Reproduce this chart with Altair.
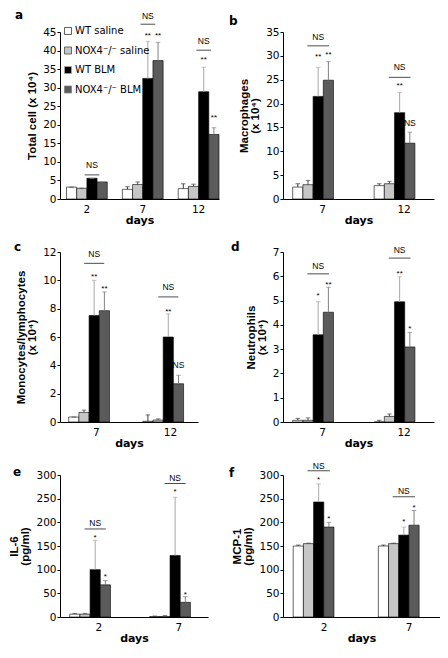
import altair as alt
import pandas as pd

WT_S, KO_S, WT_B, KO_B = "WT saline", "NOX4⁻/⁻ saline", "WT BLM", "NOX4⁻/⁻ BLM"
groups = [WT_S, KO_S, WT_B, KO_B]
fills = ["#ffffff", "#c6c6c6", "#000000", "#5b5b5b"]
err_colors = ["#3c3c3c", "#4a4a4a", "#a8a8a8", "#808080"]

# ---- a: Total cell (x 10^4)
a_days = ["2", "7", "12"]
a_mean = [[3.2, 2.6, 2.8], [2.9, 3.9, 3.4], [5.6, 32.5, 28.9], [4.6, 37.3, 17.4]]
a_top = [[3.2, 3.3, 4.1], [2.9, 4.6, 4.0], [5.6, 42.4, 35.5], [4.6, 42.2, 19.2]]
a_star_day = ["7", "7", "12", "12"]
a_star_grp = [WT_B, KO_B, WT_B, KO_B]
a_star_y = [44.5, 44.5, 38.0, 22.3]
a_star_txt = ["**", "**", "**", "**"]
a_lab_day, a_lab_grp, a_lab_y = [], [], []
a_ns_day = ["2", "7", "12"]
a_ns_line = [6.5, 47.1, 40.1]
a_ns_text = [9.1, 49.4, 42.7]

# ---- b: Macrophages (x 10^4)
b_days = ["7", "12"]
b_mean = [[2.5, 2.8], [3.0, 3.2], [21.5, 18.1], [24.9, 11.7]]
b_top = [[3.2, 3.2], [3.9, 3.7], [27.6, 22.3], [28.8, 14.0]]
b_star_day = ["7", "7", "12"]
b_star_grp = [WT_B, KO_B, WT_B]
b_star_y = [30.1, 30.7, 24.2]
b_star_txt = ["**", "**", "**"]
b_lab_day, b_lab_grp, b_lab_y = ["12"], [KO_B], [15.9]
b_ns_day = ["7", "12"]
b_ns_line = [32.1, 25.5]
b_ns_text = [34.0, 27.7]

# ---- c: Monocytes/lymphocytes (x 10^4)
c_days = ["7", "12"]
c_mean = [[0.35, 0.05], [0.68, 0.14], [7.52, 6.0], [7.86, 2.7]]
c_top = [[0.35, 0.5], [0.84, 0.22], [10.0, 7.63], [9.18, 3.3]]
c_star_day = ["7", "7", "12"]
c_star_grp = [WT_B, KO_B, WT_B]
c_star_y = [10.4, 9.5, 7.9]
c_star_txt = ["**", "**", "**"]
c_lab_day, c_lab_grp, c_lab_y = ["12"], [KO_B], [4.05]
c_ns_day = ["7", "12"]
c_ns_line = [11.2, 8.83]
c_ns_text = [11.84, 9.56]

# ---- d: Neutrophils (x 10^4)
d_days = ["7", "12"]
d_mean = [[0.07, 0.0], [0.07, 0.23], [3.59, 4.95], [4.52, 3.09]]
d_top = [[0.15, 0.07], [0.17, 0.33], [4.95, 5.98], [5.55, 3.69]]
d_star_day = ["7", "7", "12", "12"]
d_star_grp = [WT_B, KO_B, WT_B, KO_B]
d_star_y = [5.27, 5.74, 6.16, 3.92]
d_star_txt = ["*", "**", "**", "*"]
d_lab_day, d_lab_grp, d_lab_y = [], [], []
d_ns_day = ["7", "12"]
d_ns_line = [6.10, 6.75]
d_ns_text = [6.44, 7.08]

# ---- e: IL-6 (pg/ml)
e_days = ["2", "7"]
e_mean = [[6, 1], [6, 1], [100, 130], [68, 31]]
e_top = [[7.5, 2], [7.5, 3], [162, 253], [77, 43]]
e_star_day = ["2", "2", "7", "7"]
e_star_grp = [WT_B, KO_B, WT_B, KO_B]
e_star_y = [172, 88.6, 268, 50]
e_star_txt = ["*", "*", "*", "*"]
e_lab_day, e_lab_grp, e_lab_y = [], [], []
e_ns_day = ["2", "7"]
e_ns_line = [186, 282]
e_ns_text = [199, 293]

# ---- f: MCP-1 (pg/ml)
f_days = ["2", "7"]
f_mean = [[150, 150], [155, 155], [243, 173], [190, 194]]
f_top = [[152, 152], [156, 156], [281, 190], [200, 225]]
f_star_day = ["2", "2", "7", "7"]
f_star_grp = [WT_B, KO_B, WT_B, KO_B]
f_star_y = [293, 211, 204, 235]
f_star_txt = ["*", "*", "*", "*"]
f_lab_day, f_lab_grp, f_lab_y = [], [], []
f_ns_day = ["2", "7"]
f_ns_line = [309, 254]
f_ns_text = [320, 266]

AX = dict(domainColor="black", tickColor="black", labelColor="black", titleColor="black",
          grid=False, domainWidth=1)


def panel(letter, days, mean, top, star_day, star_grp, star_y, star_txt,
          lab_day, lab_grp, lab_y, ns_day, ns_line, ns_text,
          ymax, ystep, ytitle, width, height, lead, pin, lx, ly, legend=None):
    n = len(days)
    step = (width - lead) / (n - pin)
    pout = lead / (2 * step)
    barw = step * (1 - pin) / 4

    rows = []
    for gi, g in enumerate(groups):
        for di, d in enumerate(days):
            rows.append({"day": d, "group": g, "mean": mean[gi][di], "top": top[gi][di]})
    bars_df = pd.DataFrame(rows)

    xenc = alt.X("day:N", sort=days,
                 scale=alt.Scale(domain=days, paddingInner=pin, paddingOuter=pout, align=1),
                 axis=alt.Axis(title="days", ticks=False, labelAngle=0, labelPadding=5,
                               labelFont="DejaVu Sans", labelFontSize=10.5,
                               titleFont="DejaVu Sans", titleFontSize=11, titleFontWeight="bold",
                               titlePadding=0, **AX))
    xoff = alt.XOffset("group:N", sort=groups,
                       scale=alt.Scale(domain=groups, paddingInner=0, paddingOuter=0))
    yscale = alt.Scale(domain=[0, ymax], nice=False, zero=True)
    vals = []
    v = 0
    while v <= ymax + 1e-9:
        vals.append(v)
        v += ystep
    yaxis = alt.Axis(values=vals, title=ytitle, tickSize=3, labelPadding=1,
                     labelFont="DejaVu Sans", labelFontSize=10.5,
                     titleFont="Liberation Sans", titleFontSize=11.5, titleFontWeight="bold",
                     titlePadding=5, titleLineHeight=11, **AX)

    base = alt.Chart(bars_df)
    bars = base.mark_bar(stroke="black", strokeWidth=0.6).encode(
        x=xenc, xOffset=xoff,
        y=alt.Y("mean:Q", scale=yscale, axis=yaxis),
        color=alt.Color("group:N", scale=alt.Scale(domain=groups, range=fills), legend=legend),
    )
    errs = base.mark_rule(strokeWidth=1).encode(
        x=xenc, xOffset=xoff,
        y=alt.Y("mean:Q", scale=yscale, axis=yaxis), y2="top:Q",
        stroke=alt.Stroke("group:N", scale=alt.Scale(domain=groups, range=err_colors), legend=None),
    )
    caps = base.mark_tick(orient="horizontal", size=4.5, thickness=1).encode(
        x=xenc, xOffset=xoff,
        y=alt.Y("top:Q", scale=yscale, axis=yaxis),
        fill=alt.Fill("group:N", scale=alt.Scale(domain=groups, range=err_colors), legend=None),
    )
    layers = [bars, errs, caps]

    star_df = pd.DataFrame({"day": star_day, "group": star_grp, "y": star_y, "t": star_txt})
    layers.append(alt.Chart(star_df).mark_text(
        font="Liberation Sans", fontSize=8, baseline="middle", dy=2, color="black").encode(
        x=xenc, xOffset=xoff, y=alt.Y("y:Q", scale=yscale, axis=yaxis), text="t:N"))

    if lab_day:
        lab_df = pd.DataFrame({"day": lab_day, "group": lab_grp, "y": lab_y})
        layers.append(alt.Chart(lab_df).mark_text(
            font="Liberation Sans", fontSize=8.5, baseline="middle", color="black", text="NS").encode(
            x=xenc, xOffset=xoff, y=alt.Y("y:Q", scale=yscale, axis=yaxis)))

    ns_df = pd.DataFrame({"day": ns_day, "group": [WT_B] * len(ns_day),
                          "line": ns_line, "txt": ns_text})
    ns_off = alt.XOffset("group:N", sort=groups, bandPosition=1,
                         scale=alt.Scale(domain=groups, paddingInner=0, paddingOuter=0))
    layers.append(alt.Chart(ns_df).mark_tick(
        orient="horizontal", size=barw * 1.45, thickness=1, color="black").encode(
        x=xenc, xOffset=ns_off, y=alt.Y("line:Q", scale=yscale, axis=yaxis)))
    layers.append(alt.Chart(ns_df).mark_text(
        font="Liberation Sans", fontSize=8.5, baseline="middle", color="black", text="NS").encode(
        x=xenc, xOffset=ns_off, y=alt.Y("txt:Q", scale=yscale, axis=yaxis)))

    # panel letter
    layers.append(alt.Chart(pd.DataFrame({"t": [letter]})).mark_text(
        font="DejaVu Sans", fontSize=12, fontWeight="bold", color="black",
        align="left", baseline="alphabetic").encode(
        x=alt.value(lx), y=alt.value(ly), text="t:N"))

    return alt.layer(*layers).properties(width=width, height=height)


pa = panel("a", a_days, a_mean, a_top, a_star_day, a_star_grp, a_star_y, a_star_txt,
           a_lab_day, a_lab_grp, a_lab_y, a_ns_day, a_ns_line, a_ns_text,
           45, 5, "Total cell (x 10⁴)", 159, 167, 6.5, 0.27, -45, -13.5,
           legend=alt.Legend(orient="none", legendX=3, legendY=-6, title=None,
                             symbolType="square", symbolSize=49, symbolStrokeColor="black",
                             symbolStrokeWidth=0.8, labelFont="DejaVu Sans", labelFontSize=10,
                             labelColor="black", rowPadding=7.5, labelOffset=2, padding=0))
pb = panel("b", b_days, b_mean, b_top, b_star_day, b_star_grp, b_star_y, b_star_txt,
           b_lab_day, b_lab_grp, b_lab_y, b_ns_day, b_ns_line, b_ns_text,
           35, 5, ["Macrophages", "(x 10⁴)"], 151, 167, 9.7, 0.265, -54, -7)
pc = panel("c", c_days, c_mean, c_top, c_star_day, c_star_grp, c_star_y, c_star_txt,
           c_lab_day, c_lab_grp, c_lab_y, c_ns_day, c_ns_line, c_ns_text,
           12, 2, ["Monocytes/lymphocytes", "(x 10⁴)"], 138, 170, 8.7, 0.255, -46, -1.3)
pd_ = panel("d", d_days, d_mean, d_top, d_star_day, d_star_grp, d_star_y, d_star_txt,
            d_lab_day, d_lab_grp, d_lab_y, d_ns_day, d_ns_line, d_ns_text,
            7, 1, ["Neutrophils", "(x 10⁴)"], 151, 170, 9.7, 0.265, -52, -1)
pe = panel("e", e_days, e_mean, e_top, e_star_day, e_star_grp, e_star_y, e_star_txt,
           e_lab_day, e_lab_grp, e_lab_y, e_ns_day, e_ns_line, e_ns_text,
           300, 50, ["IL-6", "(pg/ml)"], 148, 142, 9.7, 0.27, -47, 1)
pf = panel("f", f_days, f_mean, f_top, f_star_day, f_star_grp, f_star_y, f_star_txt,
           f_lab_day, f_lab_grp, f_lab_y, f_ns_day, f_ns_line, f_ns_text,
           300, 50, ["MCP-1", "(pg/ml)"], 157, 142, 10.2, 0.276, -54, 2)

chart = alt.concat(
    pa, pb, pc, pd_, pe, pf, columns=2, spacing={"row": 53, "column": 64},
    bounds="flush", align="each",
).resolve_scale(
    color="independent", stroke="independent", fill="independent"
).resolve_legend(
    color="independent", stroke="independent", fill="independent"
).properties(
    padding={"left": 0, "top": 0, "right": 0, "bottom": 0}
).configure_view(stroke=None)

chart.save("out.html", embed_options={"renderer": "svg", "actions": False})
